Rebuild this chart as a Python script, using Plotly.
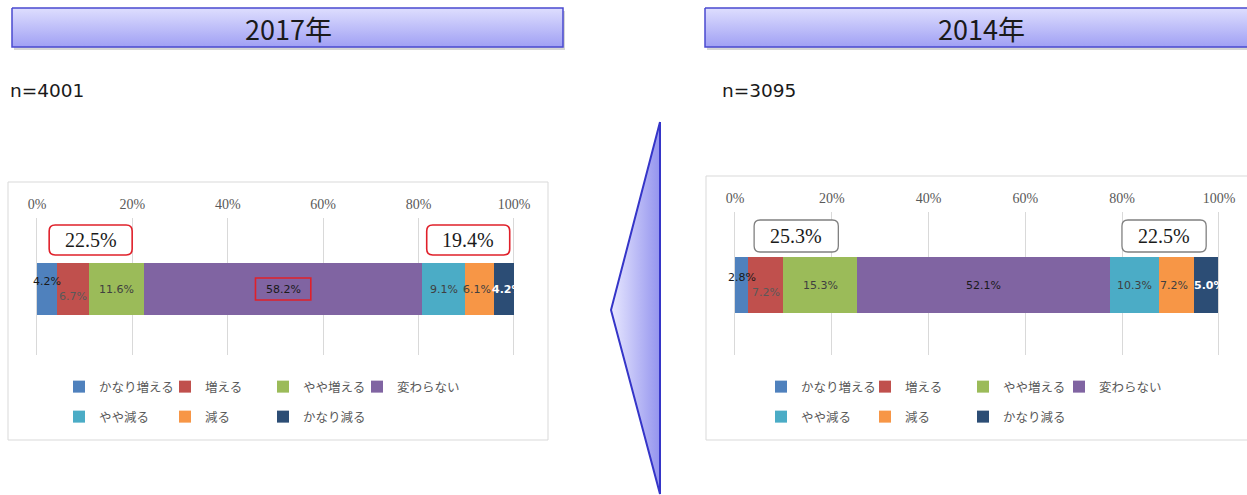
import plotly.graph_objects as go

W, H = 1247, 495

# ---------------- data ----------------
CATEGORIES = ["かなり増える", "増える", "やや増える", "変わらない", "やや減る", "減る", "かなり減る"]
VALUES_2017 = [4.2, 6.7, 11.6, 58.2, 9.1, 6.1, 4.2]
VALUES_2014 = [2.8, 7.2, 15.3, 52.1, 10.3, 7.2, 5.0]
TITLES = ["2017年", "2014年"]
N_LABELS = ["n=4001", "n=3095"]
TICK_VALUES = [0, 20, 40, 60, 80, 100]
TICK_LABELS = ["0%", "20%", "40%", "60%", "80%", "100%"]
INCREASE_IDX = [0, 1, 2]
DECREASE_IDX = [4, 5, 6]

# ---------------- style ----------------
COLORS = ["#4F81BD", "#C0504D", "#9BBB59", "#8064A2", "#4BACC6", "#F79646", "#2C4D75"]
LABEL_COLORS = ["#1a1a1a", "#595959", "#404040", "#1a1a1a", "#404040", "#404040", "#ffffff"]
LABEL_YSHIFT = [8, -7, 0, 0, 0, 0, 0]
LABEL_XSHIFT = [0, 0, 0, 0, 0, -3, 3]
JP = "Noto Sans CJK JP"
SERIF = "Liberation Serif"


def px(x):
    return x / W


def py(y):
    return 1 - y / H


PANELS = [
    dict(values=VALUES_2017, title=TITLES[0], n=N_LABELS[0], xa="x", ya="y",
         x0=37, x100=514, gtop=218, gbot=355, center=289, bw=52,
         cy=(34, 64), ccolor="#E0202A", cwidth=1.6, frame=(8, 182, 548, 440),
         tbox=(12, 8, 563, 47), tcx=288, npos=(8, 90),
         legcols=[88, 194, 292, 386], highlight=3),
    dict(values=VALUES_2014, title=TITLES[1], n=N_LABELS[1], xa="x2", ya="y2",
         x0=735, x100=1219, gtop=212, gbot=355, center=285, bw=56,
         cy=(33, 65), ccolor="#808080", cwidth=1.3, frame=(706, 176, 1265, 440),
         tbox=(705, 8, 1265, 47), tcx=981, npos=(720, 90),
         legcols=[790, 894, 992, 1088], highlight=None),
]
LEGEND_ROWS = [387, 417]

fig = go.Figure()
shapes, annotations = [], []
layout_axes = {}
legends = {}


def rounded_path(x0, x1, y0, y1, rx, ry):
    return (f"M{x0+rx},{y0} L{x1-rx},{y0} Q{x1},{y0} {x1},{y0+ry} "
            f"L{x1},{y1-ry} Q{x1},{y1} {x1-rx},{y1} L{x0+rx},{y1} "
            f"Q{x0},{y1} {x0},{y1-ry} L{x0},{y0+ry} Q{x0},{y0} {x0+rx},{y0} Z")


for j, p in enumerate(PANELS):
    vals = p["values"]
    s = (p["x100"] - p["x0"]) / 100.0
    pad = 0.6
    xdom = [px(p["x0"] - pad * s), px(p["x100"] + pad * s)]
    ydom = [py(p["gbot"]), py(p["gtop"])]
    yr = [-(p["gbot"] - p["center"]), p["center"] - p["gtop"]]
    xname = "xaxis" if p["xa"] == "x" else "xaxis" + p["xa"][1:]
    yname = "yaxis" if p["ya"] == "y" else "yaxis" + p["ya"][1:]
    layout_axes[xname] = dict(
        domain=xdom, range=[-pad, 100 + pad], side="top", anchor=p["ya"],
        tickvals=TICK_VALUES, ticktext=TICK_LABELS, showgrid=True,
        gridcolor="#D9D9D9", gridwidth=1, zeroline=False, showline=False,
        ticks="", ticklabelstandoff=5,
        tickfont=dict(family=SERIF, size=14, color="#595959"), fixedrange=True)
    layout_axes[yname] = dict(domain=ydom, range=yr, visible=False,
                              anchor=p["xa"], fixedrange=True)

    # bars, each with its own legend entry positioned like the reference
    for i, (cat, v) in enumerate(zip(CATEGORIES, vals)):
        k = j * 7 + i
        lid = "legend" if k == 0 else f"legend{k + 1}"
        row, col = (0, i) if i < 4 else (1, i - 4)
        legends[lid] = dict(
            x=px(p["legcols"][col] - 29), y=py(LEGEND_ROWS[row]),
            xanchor="left", yanchor="middle", orientation="v",
            font=dict(family=JP, size=12.5, color="#595959"),
            bgcolor="rgba(0,0,0,0)", borderwidth=0,
            itemclick=False, itemdoubleclick=False)
        fig.add_trace(go.Bar(
            x=[v], y=[0], orientation="h", name=cat, width=p["bw"],
            marker=dict(color=COLORS[i], line=dict(width=0)),
            xaxis=p["xa"], yaxis=p["ya"], legend=lid, hoverinfo="skip"))

    # data labels
    cum = 0.0
    mids = []
    for v in vals:
        mids.append(cum + v / 2)
        cum += v
    for i, v in enumerate(vals):
        annotations.append(dict(
            x=mids[i], y=0, xref=p["xa"], yref=p["ya"], text=f"{v:.1f}%",
            showarrow=False, yshift=LABEL_YSHIFT[i], xshift=LABEL_XSHIFT[i],
            xanchor="center", yanchor="middle",
            font=dict(family="DejaVu Sans", size=11, color=LABEL_COLORS[i],
                      weight="bold" if i == 6 else "normal")))

    if p["highlight"] is not None:
        m = mids[p["highlight"]]
        shapes.append(dict(type="rect", xref=p["xa"], yref=p["ya"],
                           x0=m - 5.8, x1=m + 5.8, y0=-11, y1=11,
                           line=dict(color="#E0202A", width=1.6), layer="above"))

    # callouts (sums of increase / decrease groups)
    inc = sum(vals[i] for i in INCREASE_IDX)
    dec = sum(vals[i] for i in DECREASE_IDX)
    inc_mid = inc / 2
    dec_mid = cum - dec / 2
    half = 8.7
    rx = 6 / s
    for cx, total in ((inc_mid, inc), (dec_mid, dec)):
        shapes.append(dict(type="path", xref=p["xa"], yref=p["ya"],
                           path=rounded_path(cx - half, cx + half, p["cy"][0], p["cy"][1], rx, 6),
                           line=dict(color=p["ccolor"], width=p["cwidth"]),
                           fillcolor="white", layer="above"))
        annotations.append(dict(x=cx, y=(p["cy"][0] + p["cy"][1]) / 2, xref=p["xa"], yref=p["ya"],
                                text=f"{total:.1f}%", showarrow=False,
                                xanchor="center", yanchor="middle",
                                font=dict(family=SERIF, size=20, color="#1a1a1a")))

    # chart frame
    fx0, fy0, fx1, fy1 = p["frame"]
    shapes.append(dict(type="rect", xref="paper", yref="paper",
                       x0=px(fx0), x1=px(fx1), y0=py(fy1), y1=py(fy0),
                       line=dict(color="#D9D9D9", width=1), fillcolor="white", layer="below"))

    # title box (gradient) on decoration axis
    tx0, ty0, tx1, ty1 = p["tbox"]
    shapes.append(dict(type="rect", xref="paper", yref="paper",
                       x0=px(tx0 + 2), x1=px(tx1 + 2), y0=py(ty1 + 3), y1=py(ty0 + 3),
                       line=dict(width=0), fillcolor="rgba(0,0,0,0.16)", layer="below"))
    fig.add_trace(go.Scatter(
        x=[tx0, tx1, tx1, tx0, tx0], y=[ty0, ty0, ty1, ty1, ty0], mode="lines",
        fill="toself", line=dict(color="#4A4AD0", width=1.5),
        fillgradient=dict(type="vertical", start=ty1, stop=ty0,
                          colorscale=[[0, "#A0A0F4"], [1, "#DEDEFE"]]),
        xaxis="x3", yaxis="y3", showlegend=False, hoverinfo="skip"))
    annotations.append(dict(x=px(p["tcx"]), y=py((ty0 + ty1) / 2 + 1), xref="paper", yref="paper",
                            text=p["title"], showarrow=False, xanchor="center", yanchor="middle",
                            font=dict(family=JP, size=27, color="#1a1a1a")))
    annotations.append(dict(x=px(p["npos"][0]), y=py(p["npos"][1]), xref="paper", yref="paper",
                            text=p["n"], showarrow=False, xanchor="left", yanchor="middle",
                            font=dict(family="DejaVu Sans", size=18.5, color="#1a1a1a")))

# arrow triangle
fig.add_trace(go.Scatter(
    x=[660, 611, 660, 660], y=[122, 310, 494, 122], mode="lines", fill="toself",
    line=dict(color="#3535C8", width=2),
    fillgradient=dict(type="horizontal", colorscale=[[0, "#E8E8FF"], [1, "#9494EE"]]),
    xaxis="x3", yaxis="y3", showlegend=False, hoverinfo="skip"))

layout_axes["xaxis3"] = dict(domain=[0, 1], range=[0, W], visible=False, anchor="y3", fixedrange=True)
layout_axes["yaxis3"] = dict(domain=[0, 1], range=[H, 0], visible=False, anchor="x3", fixedrange=True)

fig.update_layout(
    width=W, height=H, margin=dict(l=0, r=0, t=0, b=0, pad=0, autoexpand=False),
    paper_bgcolor="white", plot_bgcolor="rgba(0,0,0,0)",
    barmode="stack", bargap=0, showlegend=True,
    shapes=shapes, annotations=annotations, **layout_axes, **legends)

fig.write_html("out.html", config={"displayModeBar": False},
               post_script="document.body.style.margin='0px';document.body.style.overflow='hidden';")
